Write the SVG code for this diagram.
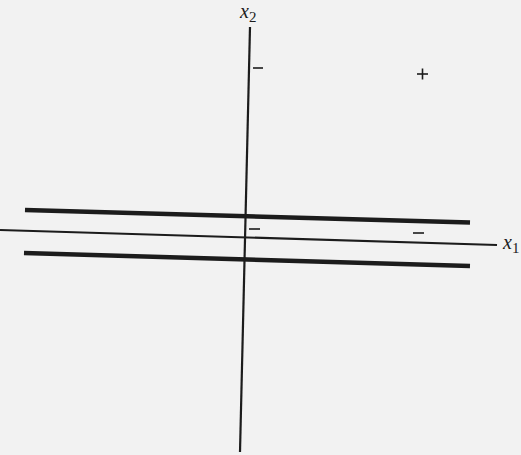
<svg xmlns="http://www.w3.org/2000/svg" width="521" height="455" viewBox="0 0 521 455">
<style>
.axis{stroke:#1c1c1c;stroke-width:2.2;fill:none;stroke-linecap:butt}
.thick{stroke:#1c1c1c;stroke-width:4.5;fill:none}
.lbl{font-family:"Liberation Serif","Times New Roman",serif;font-style:italic;font-size:20px;fill:#1c1c1c}
.sub{font-family:"Liberation Serif","Times New Roman",serif;font-style:normal;font-size:15px;fill:#1c1c1c}
.sign{stroke:#1c1c1c;stroke-width:1.6;fill:none}
</style>
<rect width="521" height="455" fill="#f2f2f2"/>
<g id="axes">
<line class="axis" x1="250" y1="27" x2="240" y2="452"/>
<line class="axis" x1="0" y1="230" x2="497" y2="245"/>
</g>
<g id="boundaries">
<line class="thick" x1="25" y1="210" x2="470" y2="222.5"/>
<line class="thick" x1="24" y1="253" x2="470" y2="266"/>
</g>
<g id="labels">
<text class="lbl" x="240" y="18">x<tspan class="sub" dy="4">2</tspan></text>
<text class="lbl" x="503" y="249">x<tspan class="sub" dy="4">1</tspan></text>
</g>
<g id="signs">
<line class="sign" x1="253" y1="68" x2="263" y2="68"/>
<line class="sign" x1="417" y1="74" x2="428" y2="74"/>
<line class="sign" x1="422.5" y1="68.5" x2="422.5" y2="79.5"/>
<line class="sign" x1="249" y1="229" x2="260" y2="229"/>
<line class="sign" x1="413" y1="233" x2="424" y2="233"/>
</g>
</svg>
